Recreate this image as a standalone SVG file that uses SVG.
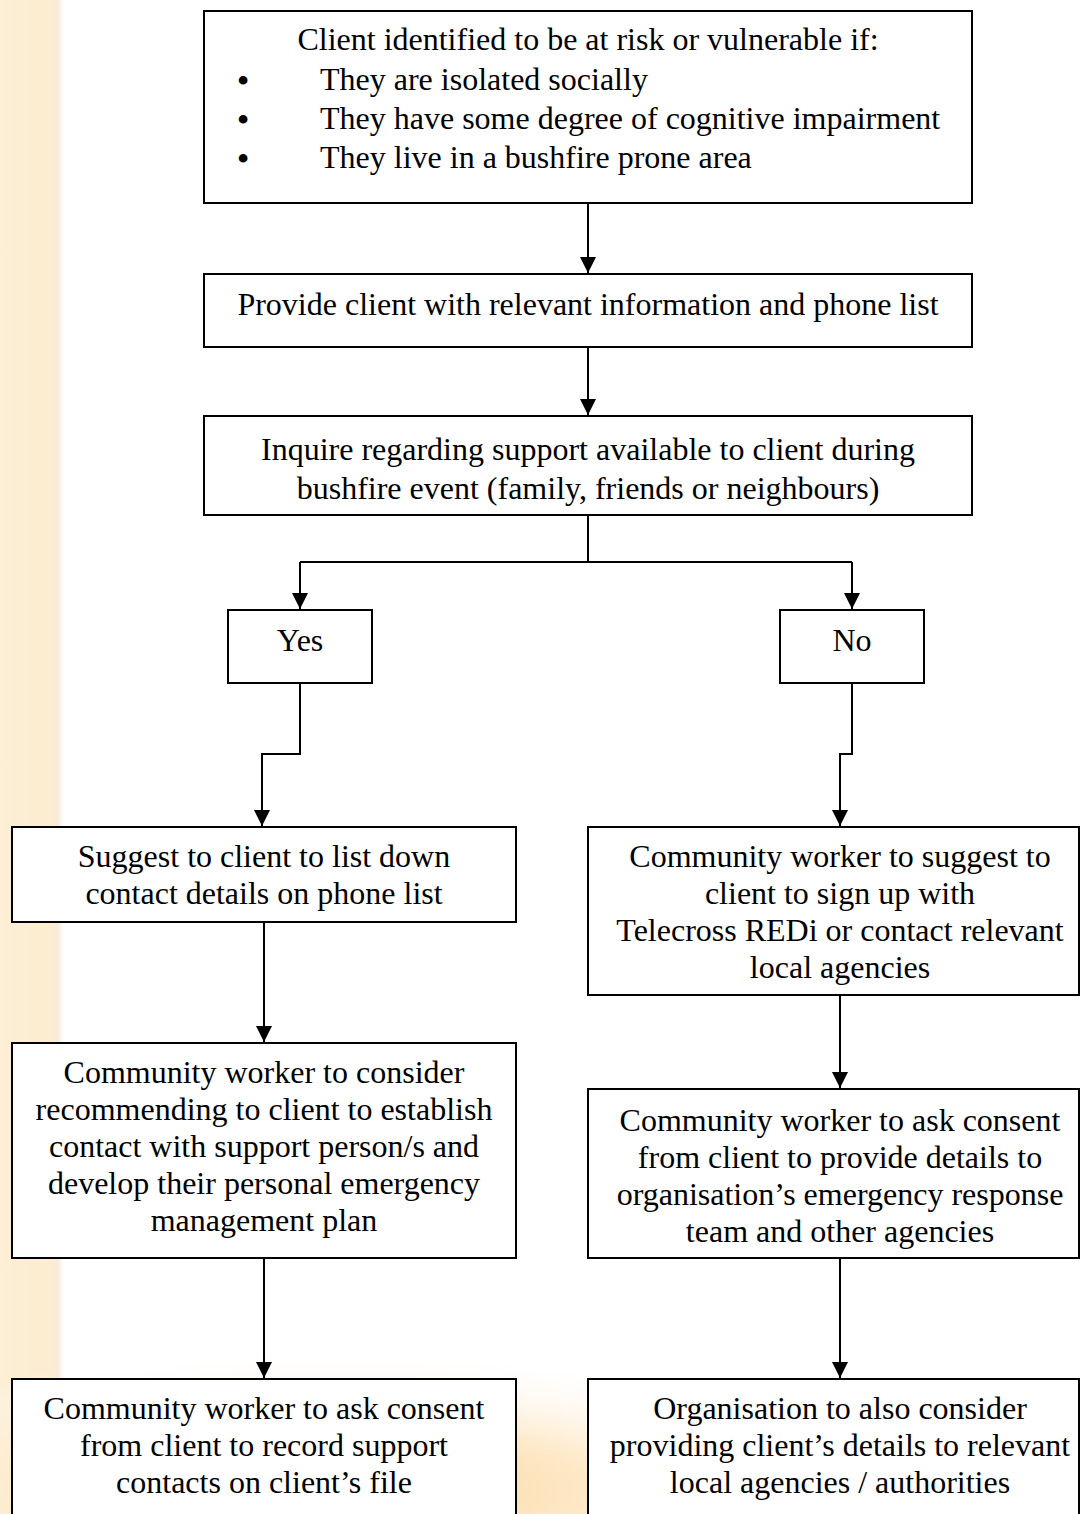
<svg xmlns="http://www.w3.org/2000/svg" width="1081" height="1514" viewBox="0 0 1081 1514">
<defs>
<style>
.box{fill:#ffffff;stroke:#000;stroke-width:2}
.t{font-family:"Liberation Serif","Times New Roman",serif;font-size:32px;fill:#000;text-anchor:middle}
.tl{font-family:"Liberation Serif","Times New Roman",serif;font-size:32px;fill:#000}
.b{font-family:"Liberation Serif","Times New Roman",serif;font-size:32px;font-weight:bold;fill:#000;text-anchor:middle}
.c{fill:none;stroke:#000;stroke-width:2}
</style>
<marker id="arr" markerWidth="16" markerHeight="16" refX="16" refY="8" orient="auto" markerUnits="userSpaceOnUse" viewBox="0 0 16 16">
<path d="M0,0 L16,8 L0,16 Z" fill="#000"/>
</marker>
<linearGradient id="strip" x1="0" y1="0" x2="1" y2="0">
<stop offset="0" stop-color="#fcefd6"/>
<stop offset="0.82" stop-color="#fcecd0"/>
<stop offset="0.9" stop-color="#f6ecdc"/>
<stop offset="1" stop-color="#ffffff"/>
</linearGradient>
<radialGradient id="glow" cx="0.5" cy="0.5" r="0.5">
<stop offset="0" stop-color="#fbd49a" stop-opacity="1"/>
<stop offset="0.45" stop-color="#fde2b8" stop-opacity="0.8"/>
<stop offset="1" stop-color="#ffffff" stop-opacity="0"/>
</radialGradient>
</defs>
<rect x="0" y="0" width="1081" height="1514" fill="#ffffff"/>
<rect x="0" y="0" width="64" height="1514" fill="url(#strip)"/>
<ellipse cx="340" cy="1490" rx="560" ry="140" fill="url(#glow)"/>

<g id="connectors">
<path class="c" d="M588,203 V273" marker-end="url(#arr)"/>
<path class="c" d="M588,347 V415" marker-end="url(#arr)"/>
<path class="c" d="M588,515 V562 H300 M588,562 H852"/>
<path class="c" d="M300,562 V609" marker-end="url(#arr)"/>
<path class="c" d="M852,562 V609" marker-end="url(#arr)"/>
<path class="c" d="M300,683 V754 H262 V826" marker-end="url(#arr)"/>
<path class="c" d="M852,683 V754 H840 V826" marker-end="url(#arr)"/>
<path class="c" d="M264,922 V1042" marker-end="url(#arr)"/>
<path class="c" d="M840,995 V1088" marker-end="url(#arr)"/>
<path class="c" d="M264,1258 V1378" marker-end="url(#arr)"/>
<path class="c" d="M840,1258 V1378" marker-end="url(#arr)"/>
</g>

<g id="n1">
<rect class="box" x="204" y="11" width="768" height="192"/>
<text class="t" x="588" y="50">Client identified to be at risk or vulnerable if:</text>
<text class="b" x="243" y="91">•</text><text class="tl" x="320" y="90">They are isolated socially</text>
<text class="b" x="243" y="130">•</text><text class="tl" x="320" y="129">They have some degree of cognitive impairment</text>
<text class="b" x="243" y="169">•</text><text class="tl" x="320" y="168">They live in a bushfire prone area</text>
</g>
<g id="n2">
<rect class="box" x="204" y="274" width="768" height="73"/>
<text class="t" x="588" y="315">Provide client with relevant information and phone list</text>
</g>
<g id="n3">
<rect class="box" x="204" y="416" width="768" height="99"/>
<text class="t" x="588" y="460">Inquire regarding support available to client during</text>
<text class="t" x="588" y="499">bushfire event (family, friends or neighbours)</text>
</g>
<g id="yes">
<rect class="box" x="228" y="610" width="144" height="73"/>
<text class="t" x="300" y="651">Yes</text>
</g>
<g id="no">
<rect class="box" x="780" y="610" width="144" height="73"/>
<text class="t" x="852" y="651">No</text>
</g>
<g id="l1">
<rect class="box" x="12" y="827" width="504" height="95"/>
<text class="t" x="264" y="867">Suggest to client to list down</text>
<text class="t" x="264" y="904">contact details on phone list</text>
</g>
<g id="r1">
<rect class="box" x="588" y="827" width="491" height="168"/>
<text class="t" x="840" y="867">Community worker to suggest to</text>
<text class="t" x="840" y="904">client to sign up with</text>
<text class="t" x="840" y="941">Telecross REDi or contact relevant</text>
<text class="t" x="840" y="978">local agencies</text>
</g>
<g id="l2">
<rect class="box" x="12" y="1043" width="504" height="215"/>
<text class="t" x="264" y="1083">Community worker to consider</text>
<text class="t" x="264" y="1120">recommending to client to establish</text>
<text class="t" x="264" y="1157">contact with support person/s and</text>
<text class="t" x="264" y="1194">develop their personal emergency</text>
<text class="t" x="264" y="1231">management plan</text>
</g>
<g id="r2">
<rect class="box" x="588" y="1089" width="491" height="169"/>
<text class="t" x="840" y="1131">Community worker to ask consent</text>
<text class="t" x="840" y="1168">from client to provide details to</text>
<text class="t" x="840" y="1205">organisation’s emergency response</text>
<text class="t" x="840" y="1242">team and other agencies</text>
</g>
<g id="l3">
<rect class="box" x="12" y="1379" width="504" height="150"/>
<text class="t" x="264" y="1419">Community worker to ask consent</text>
<text class="t" x="264" y="1456">from client to record support</text>
<text class="t" x="264" y="1493">contacts on client’s file</text>
</g>
<g id="r3">
<rect class="box" x="588" y="1379" width="491" height="150"/>
<text class="t" x="840" y="1419">Organisation to also consider</text>
<text class="t" x="840" y="1456">providing client’s details to relevant</text>
<text class="t" x="840" y="1493">local agencies / authorities</text>
</g>
</svg>
